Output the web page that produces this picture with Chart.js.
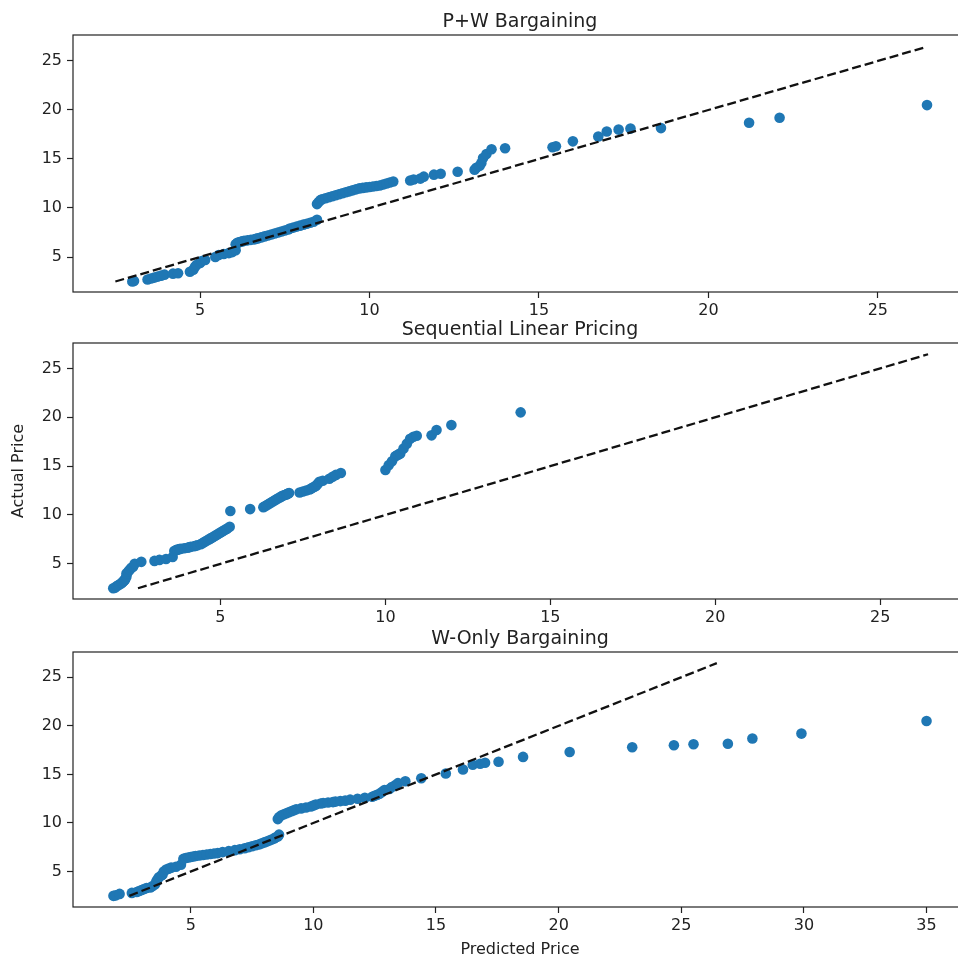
<!DOCTYPE html>
<html>
<head>
<meta charset="utf-8">
<script src="https://cdn.jsdelivr.net/npm/chart.js@4/dist/chart.umd.min.js"></script>
<style>
  html, body { margin: 0; padding: 0; background: #fff; width: 958px; height: 959px; overflow: hidden; position: relative; }
  .panel { position: absolute; left: 0; width: 1000px; }
</style>
</head>
<body>
<div class="panel" style="top:0px;height:322px"><canvas id="c1"></canvas></div>
<div class="panel" style="top:308px;height:321px"><canvas id="c2"></canvas></div>
<div class="panel" style="top:617px;height:342px"><canvas id="c3"></canvas></div>
<script>
// actual prices, shared by the three panels (sorted)
const actualPrice = [
  2.5, 2.55, 2.7, 2.8, 2.9, 3.0, 3.1, 3.2, 3.3, 3.35, 3.5, 3.7,
  4.0, 4.2, 4.4, 4.6, 4.7,
  5.0, 5.2, 5.3, 5.4, 5.5, 5.7,
  6.3, 6.4, 6.45, 6.5, 6.55, 6.6, 6.65, 6.7, 6.75, 6.8, 6.85, 6.9, 7.0, 7.1, 7.2, 7.3, 7.4, 7.5, 7.6, 7.7, 7.8, 7.9, 8.0, 8.1, 8.2, 8.3, 8.4, 8.5, 8.6, 8.8,
  10.4, 10.6, 10.8, 10.9, 11.0, 11.1, 11.2, 11.3, 11.4, 11.5, 11.6, 11.7, 11.8, 11.9, 12.0, 12.05, 12.1, 12.15, 12.2, 12.25, 12.3, 12.4, 12.5, 12.6, 12.7,
  12.8, 12.9, 13.0, 13.2, 13.4, 13.5, 13.7,
  13.9, 14.1, 14.3, 14.6, 15.1, 15.5,
  16.0, 16.1, 16.2, 16.3, 16.8, 17.3, 17.8, 18.0, 18.1, 18.15,
  18.7, 19.2, 20.5
];

const predPW = [
  3.0, 3.05, 3.45, 3.55, 3.65, 3.75, 3.85, 3.95, 4.2, 4.35, 4.7, 4.8,
  4.85, 4.9, 5.0, 5.05, 5.15,
  5.45, 5.55, 5.7, 5.85, 5.95, 6.05,
  6.05, 6.1, 6.1, 6.15, 6.2, 6.25, 6.3, 6.4, 6.5, 6.6, 6.65, 6.7, 6.8, 6.9, 7.0, 7.1, 7.2, 7.3, 7.4, 7.5, 7.6, 7.65, 7.75, 7.85, 7.95, 8.05, 8.15, 8.25, 8.35, 8.45,
  8.45, 8.5, 8.55, 8.6, 8.7, 8.8, 8.9, 9.0, 9.1, 9.2, 9.3, 9.4, 9.5, 9.6, 9.7, 9.8, 9.9, 10.0, 10.1, 10.2, 10.3, 10.4, 10.5, 10.6, 10.7,
  11.2, 11.3, 11.5, 11.6, 11.9, 12.1, 12.6,
  13.1, 13.15, 13.25, 13.3, 13.35, 13.45,
  13.6, 14.0, 15.4, 15.5, 16.0, 16.75, 17.0, 17.35, 17.7, 18.6,
  21.2, 22.1, 26.45
];

const predSeq = [
  1.75, 1.8, 1.85, 1.9, 1.95, 2.0, 2.02, 2.05, 2.08, 2.1, 2.12, 2.15,
  2.15, 2.2, 2.25, 2.3, 2.35,
  2.4, 2.6, 3.0, 3.15, 3.35, 3.55,
  3.6, 3.65, 3.7, 3.75, 3.8, 3.9, 4.0, 4.05, 4.1, 4.2, 4.25, 4.3, 4.4, 4.45, 4.5, 4.55, 4.6, 4.65, 4.7, 4.75, 4.8, 4.85, 4.9, 4.95, 5.0, 5.05, 5.1, 5.15, 5.2, 5.28,
  5.3, 5.9, 6.3, 6.35, 6.4, 6.45, 6.5, 6.55, 6.6, 6.65, 6.7, 6.75, 6.8, 6.85, 6.9, 6.95, 7.0, 7.02, 7.05, 7.08, 7.4, 7.5, 7.6, 7.7, 7.75,
  7.8, 7.85, 7.9, 7.95, 8.0, 8.1, 8.3,
  8.4, 8.5, 8.65, 10.0, 10.1, 10.2,
  10.3, 10.35, 10.4, 10.45, 10.55, 10.65, 10.75, 10.85, 10.95, 11.4,
  11.55, 12.0, 14.1
];

const predW = [
  1.85, 1.95, 2.1, 2.6, 2.8, 2.9, 3.0, 3.1, 3.2, 3.35, 3.45, 3.55,
  3.6, 3.65, 3.7, 3.8, 3.85,
  3.9, 4.0, 4.1, 4.2, 4.4, 4.6,
  4.7, 4.8, 4.9, 5.0, 5.1, 5.2, 5.35, 5.5, 5.65, 5.8, 5.95, 6.1, 6.3, 6.55, 6.8, 7.0, 7.2, 7.35, 7.5, 7.65, 7.8, 7.9, 8.0, 8.1, 8.2, 8.3, 8.4, 8.45, 8.55, 8.6,
  8.55, 8.6, 8.7, 8.8, 8.9, 9.0, 9.1, 9.2, 9.3, 9.5, 9.7, 9.9, 10.0, 10.1, 10.3, 10.4, 10.6, 10.8, 10.9, 11.1, 11.3, 11.5, 11.8, 12.1, 12.4,
  12.5, 12.6, 12.7, 12.8, 12.9, 13.1, 13.2,
  13.35, 13.45, 13.75, 14.4, 15.4, 16.1,
  16.5, 16.8, 17.0, 17.55, 18.55, 20.45, 23.0, 24.7, 25.5, 26.9,
  27.9, 29.9, 35.0
];

// y = x reference line ends
const diagLine = [2.5, 26.45];

const yTicks = [5, 10, 15, 20, 25];
const xTicksShort = [5, 10, 15, 20, 25];
const xTicksLong = [5, 10, 15, 20, 25, 30, 35];

const FONT = 'DejaVu Sans';
const INK = '#222';

// axes box + title centred over the axes (like matplotlib)
const frame = {
  id: 'frame',
  afterDatasetsDraw(chart, args, opts) {
    const { ctx, chartArea: a } = chart;
    ctx.save();
    ctx.strokeStyle = INK;
    ctx.lineWidth = 1.2;
    ctx.strokeRect(a.left, a.top, a.right - a.left, a.bottom - a.top);
    ctx.fillStyle = INK;
    ctx.font = '19px "' + FONT + '"';
    ctx.textAlign = 'center';
    ctx.textBaseline = 'alphabetic';
    ctx.fillText(opts.text, (a.left + a.right) / 2, a.top - 8.5);
    ctx.restore();
  }
};

function makeChart(id, title, preds, xMin, xMax, xTicks, opts) {
  const pts = preds.map((x, i) => ({ x: x, y: actualPrice[i] }));
  const line = diagLine.map(v => ({ x: v, y: v }));

  return new Chart(document.getElementById(id), {
    type: 'scatter',
    data: {
      datasets: [{
        data: line,
        showLine: true,
        borderColor: '#111',
        borderWidth: 2.3,
        borderDash: [9, 4],
        pointRadius: 0,
        order: 0
      }, {
        data: pts,
        backgroundColor: '#1f77b4',
        borderColor: '#1f77b4',
        borderWidth: 0,
        pointRadius: 5.3,
        order: 1
      }]
    },
    options: {
      animation: false,
      responsive: true,
      maintainAspectRatio: false,
      devicePixelRatio: 1,
      layout: { padding: { left: 0, right: 33, top: 35, bottom: 0 } },
      plugins: {
        legend: { display: false },
        tooltip: { enabled: false },
        title: { display: false },
        frame: { text: title }
      },
      scales: {
        x: {
          type: 'linear',
          min: xMin,
          max: xMax,
          afterBuildTicks: s => { s.ticks = xTicks.map(v => ({ value: v })); },
          afterFit: s => { s.height = opts.xHeight; },
          border: { display: false },
          grid: { drawOnChartArea: false, drawTicks: true, tickLength: 6, tickColor: INK, tickWidth: 1.2 },
          ticks: { color: INK, font: { family: FONT, size: 16 }, padding: 3, maxRotation: 0, autoSkip: false },
          title: {
            display: !!opts.xTitle,
            text: opts.xTitle || '',
            color: INK,
            font: { family: FONT, size: 16 },
            padding: { top: 0, bottom: 0 }
          }
        },
        y: {
          type: 'linear',
          min: opts.yMin,
          max: opts.yMax,
          afterBuildTicks: s => { s.ticks = yTicks.map(v => ({ value: v })); },
          afterFit: s => { s.width = 73; },
          border: { display: false },
          grid: { drawOnChartArea: false, drawTicks: true, tickLength: 6, tickColor: INK, tickWidth: 1.2 },
          ticks: { color: INK, font: { family: FONT, size: 16 }, padding: 5, autoSkip: false },
          title: {
            display: !!opts.yTitle,
            text: opts.yTitle || '',
            color: INK,
            font: { family: FONT, size: 16 },
            padding: { top: 9, bottom: 0 }
          }
        }
      }
    },
    plugins: [frame]
  });
}

makeChart('c1', 'P+W Bargaining', predPW, 1.25, 27.63, xTicksShort,
  { yMin: 1.43, yMax: 27.65, xHeight: 30 });
makeChart('c2', 'Sequential Linear Pricing', predSeq, 0.53, 27.63, xTicksShort,
  { yMin: 1.4, yMax: 27.6, xHeight: 30, yTitle: 'Actual Price' });
makeChart('c3', 'W-Only Bargaining', predW, 0.2, 36.65, xTicksLong,
  { yMin: 1.35, yMax: 27.6, xHeight: 52, xTitle: 'Predicted Price' });
</script>
</body>
</html>
